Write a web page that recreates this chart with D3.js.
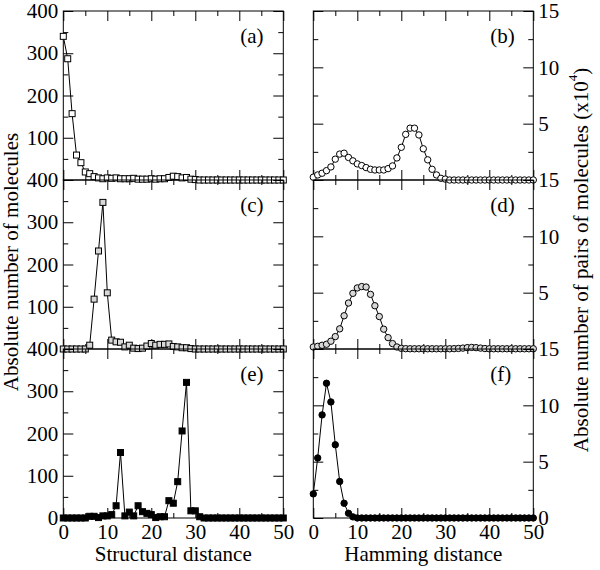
<!DOCTYPE html>
<html>
<head>
<meta charset="utf-8">
<script src="https://cdn.jsdelivr.net/npm/d3@7"></script>
<style>
  html, body { margin: 0; padding: 0; background: #fff; }
  svg text { font-family: "Liberation Serif", "Tinos", "Times New Roman", "Times", "Nimbus Roman", "DejaVu Serif", serif; fill: #000; }
</style>
</head>
<body>
<svg id="chart" width="600" height="570"></svg>
<script>
// ---------- DATA ----------
const distance = [0,1,2,3,4,5,6,7,8,9,10,11,12,13,14,15,16,17,18,19,20,21,22,23,24,25,26,27,28,29,30,31,32,33,34,35,36,37,38,39,40,41,42,43,44,45,46,47,48,49,50];

// Structural distance (absolute number of molecules)
const panelA = [340,287,157,59,41,19,15,8,5,3,5,4,5,3,3,3,4,2,2,2,3,2,3,3,6,9,8,5,6,2,1,0,0,0,0,0,0,0,0,0,0,0,0,0,0,0,0,0,0,0,0];
const panelC = [0,0,0,0,0,0,9,118,232,347,133,21,17,16,5,9,2,1,2,7,13,9,11,11,12,6,5,3,3,1,0,0,0,0,0,0,0,0,0,0,0,0,0,0,0,0,0,0,0,0,0];
const panelE = [0,0,0,0,0,0,4,4,1,5,5,8,29,155,5,14,5,29,15,11,8,1,3,3,41,35,86,206,321,17,17,3,0,0,0,0,0,0,0,0,0,0,0,0,0,0,0,0,0,0,0];

// Hamming distance (pairs of molecules, x10^4)
const panelB = [0.25,0.45,0.6,0.83,1.16,1.85,2.3,2.38,2.0,1.7,1.43,1.28,1.1,0.95,0.89,0.89,0.89,1.01,1.25,1.96,2.9,4.05,4.6,4.6,4.0,2.77,1.79,0.95,0.45,0.15,0.08,0,0,0,0,0,0,0,0,0,0,0,0,0,0,0,0,0,0,0,0];
const panelD = [0.18,0.24,0.33,0.42,0.69,1.1,1.79,2.95,4.08,4.94,5.42,5.54,5.5,4.85,3.84,2.88,1.76,1.01,0.48,0.18,0.06,0.03,0.02,0.02,0.02,0.02,0.02,0.02,0.02,0.02,0.02,0.02,0.03,0.05,0.08,0.12,0.14,0.12,0.08,0.04,0.02,0.02,0.02,0.02,0.02,0.02,0.02,0.02,0.02,0.02,0.02];
const panelF = [2.14,5.33,9.15,11.96,10.3,6.5,3.24,1.31,0.42,0.1,0,0,0,0,0,0,0,0,0,0,0,0,0,0,0,0,0,0,0,0,0,0,0,0,0,0,0,0,0,0,0,0,0,0,0,0,0,0,0,0,0];

const panelLabels = ["(a)","(b)","(c)","(d)","(e)","(f)"];
const xTickLabels = [0,10,20,30,40,50];
const xMinorTicks = [5,15,25,35,45];
const leftTicks = [0,100,200,300,400];
const leftMinor = [50,150,250,350];
const rightTicks = [0,5,10,15];
const rightMinor = [2.5,7.5,12.5];
const xTitles = ["Structural distance","Hamming distance"];
const leftTitle = "Absolute number of molecules";
const rightTitle = "Absolute number of pairs of molecules (x10";

// ---------- LAYOUT ----------
const FONT = '"Liberation Serif", "Tinos", "Times New Roman", "Times", "Nimbus Roman", "DejaVu Serif", serif';
const svg = d3.select("#chart").attr("font-family", FONT);
const FS = 21;
const colX = [[63.3,283.3],[313.3,533.3]];
const top0 = 11, rowH = 169;
const MAJ = 10, MIN = 5;

const panels = [
  {row:0,col:0,data:panelA,shape:"square",fill:"#ffffff",label:panelLabels[0]},
  {row:0,col:1,data:panelB,shape:"circle",fill:"#ffffff",label:panelLabels[1]},
  {row:1,col:0,data:panelC,shape:"square",fill:"#d8d8d8",label:panelLabels[2]},
  {row:1,col:1,data:panelD,shape:"circle",fill:"#d8d8d8",label:panelLabels[3]},
  {row:2,col:0,data:panelE,shape:"square",fill:"#000000",label:panelLabels[4]},
  {row:2,col:1,data:panelF,shape:"circle",fill:"#000000",label:panelLabels[5]}
];

function styleAxis(g){
  g.attr("font-family", FONT);
  g.select(".domain").remove();
  g.selectAll(".tick line").attr("stroke","#000").attr("stroke-width",1);
  g.selectAll(".tick text").attr("font-size",FS).attr("font-family",FONT);
}

panels.forEach(p => {
  const x = d3.scaleLinear().domain([0,50]).range(colX[p.col]);
  const yTop = top0 + p.row*rowH, yBot = yTop + rowH;
  const y = d3.scaleLinear().domain(p.col===0 ? [0,400] : [0,15]).range([yBot, yTop]);
  const g = svg.append("g");
  const majorY = p.col===0 ? leftTicks : rightTicks;
  const minorY = p.col===0 ? leftMinor : rightMinor;

  g.append("rect").attr("x",colX[p.col][0]).attr("y",yTop)
    .attr("width",colX[p.col][1]-colX[p.col][0]).attr("height",rowH)
    .attr("fill","none").attr("stroke","#000").attr("stroke-width",1);

  const showXLabels = p.row===2;
  g.append("g").attr("transform",`translate(0,${yBot})`)
    .call(d3.axisBottom(x).tickValues(xTickLabels).tickSizeInner(-MAJ).tickSizeOuter(0).tickPadding(6)
      .tickFormat(showXLabels ? d3.format("d") : ()=>""))
    .call(styleAxis);
  g.append("g").attr("transform",`translate(0,${yBot})`)
    .call(d3.axisBottom(x).tickValues(xMinorTicks).tickSizeInner(-MIN).tickSizeOuter(0).tickFormat(()=>""))
    .call(styleAxis);
  g.append("g").attr("transform",`translate(0,${yTop})`)
    .call(d3.axisTop(x).tickValues(xTickLabels).tickSizeInner(-MAJ).tickSizeOuter(0).tickFormat(()=>""))
    .call(styleAxis);
  g.append("g").attr("transform",`translate(0,${yTop})`)
    .call(d3.axisTop(x).tickValues(xMinorTicks).tickSizeInner(-MIN).tickSizeOuter(0).tickFormat(()=>""))
    .call(styleAxis);

  const yLabelFmt = v => (v===0 && p.row<2) ? "" : d3.format("d")(v);
  const L = colX[p.col][0], R = colX[p.col][1];
  g.append("g").attr("transform",`translate(${L},0)`)
    .call(d3.axisLeft(y).tickValues(majorY).tickSizeInner(-MAJ).tickSizeOuter(0).tickPadding(5)
      .tickFormat(p.col===0 ? yLabelFmt : ()=>""))
    .call(styleAxis);
  g.append("g").attr("transform",`translate(${L},0)`)
    .call(d3.axisLeft(y).tickValues(minorY).tickSizeInner(-MIN).tickSizeOuter(0).tickFormat(()=>""))
    .call(styleAxis);
  g.append("g").attr("transform",`translate(${R},0)`)
    .call(d3.axisRight(y).tickValues(majorY).tickSizeInner(-MAJ).tickSizeOuter(0).tickPadding(5)
      .tickFormat(p.col===1 ? yLabelFmt : ()=>""))
    .call(styleAxis);
  g.append("g").attr("transform",`translate(${R},0)`)
    .call(d3.axisRight(y).tickValues(minorY).tickSizeInner(-MIN).tickSizeOuter(0).tickFormat(()=>""))
    .call(styleAxis);

  const pts = distance.map((d,i)=>({x:d, v:p.data[i]}));
  g.append("path").datum(pts)
    .attr("fill","none").attr("stroke","#000").attr("stroke-width",1)
    .attr("d", d3.line().x(d=>x(d.x)).y(d=>y(d.v)));

  if (p.shape==="square") {
    const s = 6;
    g.selectAll("rect.m").data(pts).join("rect").attr("class","m")
      .attr("x",d=>x(d.x)-s/2).attr("y",d=>y(d.v)-s/2)
      .attr("width",s).attr("height",s)
      .attr("fill",p.fill).attr("stroke","#000").attr("stroke-width",1);
  } else {
    g.selectAll("circle.m").data(pts).join("circle").attr("class","m")
      .attr("cx",d=>x(d.x)).attr("cy",d=>y(d.v)).attr("r",3.2)
      .attr("fill",p.fill).attr("stroke","#000").attr("stroke-width",1);
  }

  g.append("text").attr("x",L+177).attr("y",yTop+32)
    .attr("font-size",FS).attr("font-family",FONT).text(p.label);
});

xTitles.forEach((t,i)=>{
  svg.append("text").attr("x",(colX[i][0]+colX[i][1])/2).attr("y",561)
    .attr("text-anchor","middle").attr("font-size",FS).attr("font-family",FONT).text(t);
});
svg.append("text").attr("transform","translate(18,262) rotate(-90)")
  .attr("text-anchor","middle").attr("font-size",FS).attr("font-family",FONT).text(leftTitle);
const rt = svg.append("text").attr("transform","translate(588,260) rotate(-90)")
  .attr("text-anchor","middle").attr("font-size",FS).attr("font-family",FONT);
rt.append("tspan").text(rightTitle);
rt.append("tspan").attr("font-size",13).attr("dy",-11).text("4");
rt.append("tspan").attr("dy",11).text(")");
</script>
</body>
</html>
